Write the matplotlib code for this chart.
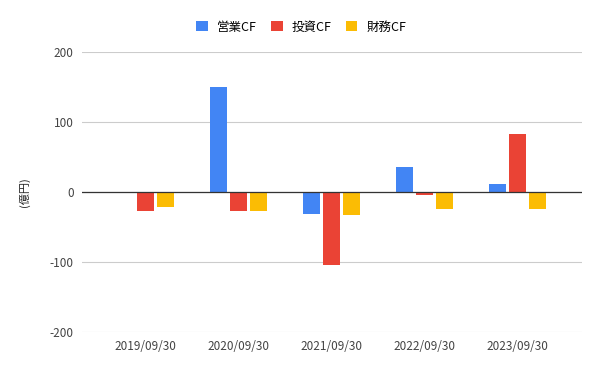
import matplotlib.pyplot as plt
import numpy as np

plt.rcParams["font.family"] = ["Noto Sans CJK JP", "DejaVu Sans"]
plt.rcParams["axes.unicode_minus"] = False

periods = ["2019/09/30", "2020/09/30", "2021/09/30", "2022/09/30", "2023/09/30"]
series_names = ["営業CF", "投資CF", "財務CF"]
operating_cf = [0, 150, -31, 35, 11]
investing_cf = [-28, -27, -105, -5, 83]
financing_cf = [-21, -28, -33, -25, -25]
y_ticks = [-200, -100, 0, 100, 200]

colors = ["#4285F4", "#EA4335", "#FBBC04"]

fig = plt.figure(figsize=(6, 3.71), dpi=100)
ax = fig.add_axes([0.1367, 0.105, 0.8333, 0.756])

x = np.arange(len(periods))
step = 0.215
width = 0.186
for i, (vals, name, c) in enumerate(zip([operating_cf, investing_cf, financing_cf], series_names, colors)):
    ax.bar(x + (i - 1) * step, vals, width=width, color=c, label=name, zorder=3)

ax.set_xlim(-0.68, 4.69)
ax.set_ylim(-200, 200)
ax.set_yticks(y_ticks)
ax.set_xticks(x)
ax.set_xticklabels(periods)
ax.grid(axis="y", color="#cccccc", linewidth=0.8, zorder=0)
ax.axhline(0, color="#333333", linewidth=0.9, zorder=4)
for s in ax.spines.values():
    s.set_visible(False)
ax.tick_params(axis="both", length=0, labelsize=8.5, colors="#444444")
ax.tick_params(axis="y", pad=6)
ax.tick_params(axis="x", pad=6)
ax.set_ylabel("(億円)", fontsize=8, color="#222222", labelpad=14)

fig.legend(loc="upper center", bbox_to_anchor=(0.502, 0.975), ncol=3, frameon=False,
           fontsize=9, handlelength=0.9, handleheight=0.9, columnspacing=1.2,
           handletextpad=0.7)

fig.savefig("out.png", dpi=100)
